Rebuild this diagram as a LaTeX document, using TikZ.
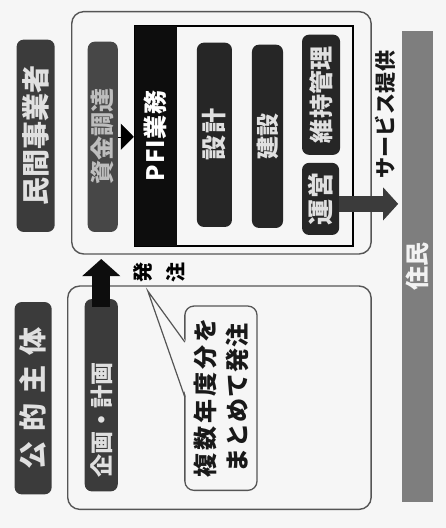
\documentclass[tikz,border=0pt]{standalone}
\usepackage{fontspec}
\setmainfont{Noto Sans CJK JP}
\usetikzlibrary{arrows.meta}
\definecolor{paper}{HTML}{F6F6F6}
\definecolor{boxa}{HTML}{3B3B3B}
\definecolor{boxb}{HTML}{474747}
\definecolor{boxc}{HTML}{262626}
\definecolor{barc}{HTML}{7E7E7E}
\definecolor{txtl}{HTML}{E0E0E0}
\definecolor{txtm}{HTML}{BDBDBD}
\definecolor{edge}{HTML}{555555}
\newcommand{\fs}[2]{\bfseries\fontsize{#1}{#1}\selectfont\addfontfeatures{LetterSpace=#2}}
\tikzset{
  outerbox/.style={draw=edge, line width=1.4pt, rounded corners=12pt, inner sep=0pt, fill=paper},
  darkbox/.style={rotate=90, fill=#1, rounded corners=7pt, inner sep=0pt, text=txtl},
  vlabel/.style={rotate=90, inner sep=0pt},
  fatarrow/.style={line width=#1},
}
\begin{document}
\begin{tikzpicture}[x=1pt,y=-1pt]
\node[draw=paper, fill=paper, line width=0.2pt, minimum width=445, minimum height=527, inner sep=0pt] (sheet) at (223,264) {};

% outer groups
\node[outerbox, minimum width=299, minimum height=242] (upper) at (221.5,133) {};
\node[outerbox, minimum width=303, minimum height=223] (lower) at (219.5,397.5) {};

% actors
\node[darkbox=boxa, minimum width=192, minimum height=38, font=\fs{28}{0}] (minkan) at (36,136) {民間事業者};
\node[darkbox=boxa, minimum width=192, minimum height=37, font=\fs{28}{36}] (kouteki) at (33.5,398) {公的主体};

% finance
\node[darkbox=boxb, minimum width=190, minimum height=30, text=txtm, font=\fs{24}{0}] (shikin) at (103,137) {資金調達};

% PFI box
\node[draw=black, line width=2pt, fill=paper, minimum width=218, minimum height=220, inner sep=0pt] (pfi) at (244,136) {};
\node[rotate=90, fill=black!95, minimum width=220, minimum height=42, inner sep=0pt, text=white, font=\fs{24}{3}] (pfihead) at (156,136) {PFI業務};
\node[darkbox=boxc, minimum width=184, minimum height=35, font=\fs{25}{8}] (sekkei) at (214.5,135) {設計};
\node[darkbox=boxc, minimum width=183, minimum height=31, font=\fs{23}{0}] (kensetsu) at (267.5,136.5) {建設};
\node[darkbox=boxc, minimum width=120, minimum height=38, font=\fs{24}{1}] (iji) at (321,95) {維持管理};
\node[darkbox=boxc, minimum width=72, minimum height=37, font=\fs{26}{6}] (unei) at (320.5,199) {運営};

\draw[fatarrow=0.5pt, -{Triangle[width=26pt,length=13pt]}, black] (shikin.south) -- (shikin.south -| pfi.west);

% service arrow
\coordinate (svctip) at (398,204);
\draw[fatarrow=16pt, boxa, -{Triangle[width=32pt,length=15pt]}] (unei.south |- svctip) -- (svctip);
\node[vlabel, text=black!90, font=\fs{21}{2}] (svc) at (385,115) {サービス提供};

% residents
\node[rotate=90, fill=barc, minimum width=471, minimum height=31, inner sep=0pt, text=white!90!gray, font=\fs{24}{0}] (jumin) at (417.5,266.5) {住民};

% planning
\node[darkbox=boxa, minimum width=192, minimum height=33] (kikaku) at (101.5,395) {};
\node[vlabel, text=txtl, font=\fs{23}{0}] (kikakut) at (101.5,420) {企画・計画};
\coordinate (hctip) at (101.5,259);
\draw[fatarrow=18pt, black!95, -{Triangle[width=37pt,length=17pt]}] ([yshift=-8pt]kikaku.east) -- (hctip);
\node[vlabel, font=\fs{20}{0}] (hatsu) at (143,272) {発};
\node[vlabel, font=\fs{20}{0}] (chu) at (176,272) {注};

% callout
\node[rotate=90, draw=edge, line width=1.3pt, fill=paper, rounded corners=9pt, minimum width=184, minimum height=72, inner sep=0pt, align=center, text=black!90] (callout) at (221,398)
  {{\fs{24}{12}複数年度分を}\\[8pt]{\fs{24}{4}まとめて発注}};
\coordinate (apex) at (148,291);
\coordinate (cb1) at (185,342);
\coordinate (cb2) at (185,397);
\path[fill=paper] (apex) -- ([xshift=1.6pt]cb1) -- ([xshift=1.6pt]cb2) -- cycle;
\draw[edge, line width=1.2pt] (cb1) -- (apex) -- (cb2);
\end{tikzpicture}
\end{document}
